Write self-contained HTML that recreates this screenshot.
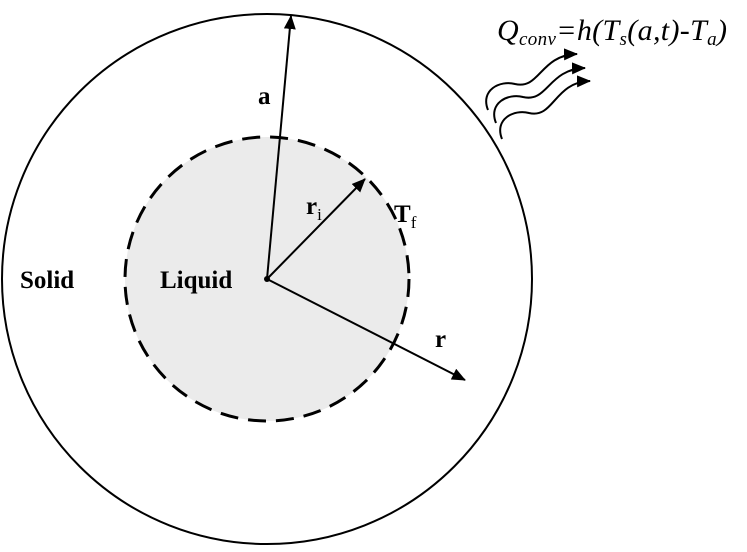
<!DOCTYPE html>
<html><head><style>html,body{margin:0;padding:0;background:#fff;}</style></head>
<body>
<svg width="747" height="547" viewBox="0 0 747 547" xmlns="http://www.w3.org/2000/svg">
<defs>
<marker id="ah2" markerWidth="14" markerHeight="12" refX="13" refY="6" orient="auto" markerUnits="userSpaceOnUse">
<path d="M0,0 L14,6 L0,12 Z" fill="#000"/>
</marker>
</defs>
<circle cx="267" cy="279" r="265" fill="none" stroke="#000" stroke-width="2"/>
<circle cx="267" cy="279" r="142" fill="#ebebeb" stroke="#000" stroke-width="3" stroke-dasharray="18,10"/>
<line x1="267" y1="279" x2="291" y2="16" stroke="#000" stroke-width="2" marker-end="url(#ah2)"/>
<line x1="267" y1="279" x2="365" y2="179" stroke="#000" stroke-width="2" marker-end="url(#ah2)"/>
<line x1="267" y1="279" x2="465" y2="380" stroke="#000" stroke-width="2" marker-end="url(#ah2)"/>
<circle cx="267" cy="279" r="3" fill="#000"/>
<g fill="none" stroke="#000" stroke-width="2">
<path d="M488,110 C480,90 500,80 515,84 C540,90 540,55 577,54" marker-end="url(#ah2)"/>
<path d="M496,123 C488,103 508,93 523,97 C548,103 548,69 585,68" marker-end="url(#ah2)"/>
<path d="M502,139 C494,119 514,109 529,113 C554,119 554,82 590,81" marker-end="url(#ah2)"/>
</g>
<g font-family="Liberation Serif, serif" font-weight="bold" font-size="25" fill="#000">
<text x="258" y="104">a</text>
<text x="306" y="214">r<tspan font-size="17" font-weight="normal" dy="6">i</tspan></text>
<text x="394" y="222">T<tspan font-size="17" font-weight="normal" dy="6">f</tspan></text>
<text x="435" y="347">r</text>
<text x="20" y="288">Solid</text>
<text x="160" y="288">Liquid</text>
</g>
<text x="497" y="40" font-family="Liberation Serif, serif" font-style="italic" font-size="30" fill="#000" textLength="230">Q<tspan font-size="19" dy="5">conv</tspan><tspan dy="-5">=h(T</tspan><tspan font-size="19" dy="5">s</tspan><tspan dy="-5">(a,t)-T</tspan><tspan font-size="19" dy="5">a</tspan><tspan dy="-5">)</tspan></text>
</svg>
</body></html>
